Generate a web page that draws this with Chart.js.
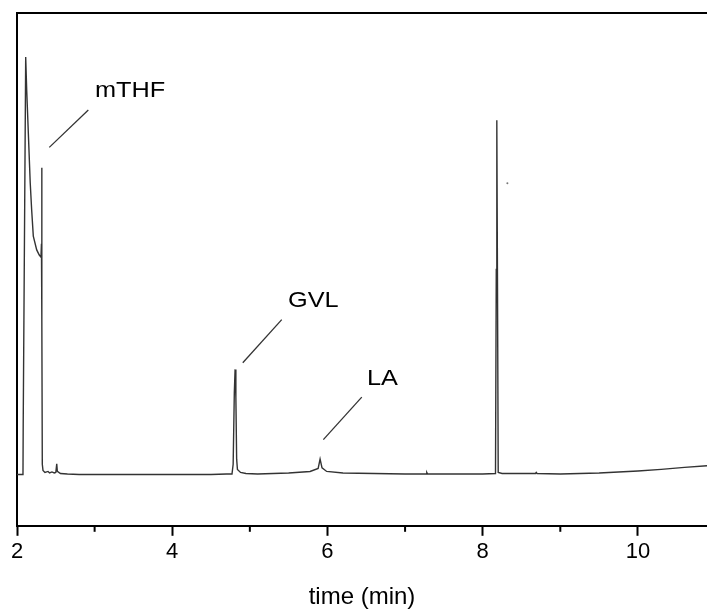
<!DOCTYPE html>
<html>
<head>
<meta charset="utf-8">
<script src="https://cdn.jsdelivr.net/npm/chart.js@4.4.1/dist/chart.umd.min.js"></script>
<style>
html,body{margin:0;padding:0;background:#fff;}
</style>
</head>
<body>
<canvas id="myChart" width="707" height="612"></canvas>
<script>
// retention time (min) and detector signal (arbitrary units)
const times = [2.0, 2.077, 2.08, 2.112, 2.125, 2.146, 2.17, 2.189, 2.21, 2.254, 2.287, 2.309, 2.315, 2.318, 2.322, 2.326, 2.335, 2.36, 2.40, 2.42, 2.45, 2.48, 2.50, 2.512, 2.52, 2.56, 2.65, 2.8, 3.5, 4.5, 4.7, 4.77, 4.785, 4.80, 4.81, 4.82, 4.83, 4.84, 4.88, 4.95, 5.1, 5.5, 5.776, 5.88, 5.905, 5.93, 5.99, 6.2, 7.0, 7.27, 7.28, 7.29, 8.0, 8.165, 8.175, 8.182, 8.19, 8.2, 8.25, 8.68, 8.69, 8.70, 9.0, 9.5, 10.0, 10.3, 10.6, 10.89];
const signal = [10, 10, 20, 91.4, 85, 76.6, 67, 61.6, 56.5, 53.8, 52.8, 52.4, 55, 69.8, 40, 12, 10.8, 10.4, 10.6, 10.3, 10.5, 10.3, 10.4, 12.1, 10.6, 10.2, 10.1, 10.0, 10.0, 10.0, 10.1, 10.1, 12, 26, 30.5, 25, 13, 11, 10.4, 10.2, 10.1, 10.3, 10.6, 11.2, 13, 11.3, 10.6, 10.3, 10.1, 10.1, 10.4, 10.1, 10.1, 10.2, 50, 79.1, 50, 10.4, 10.2, 10.2, 10.4, 10.2, 10.1, 10.3, 10.7, 11.0, 11.4, 11.7];

// stray speck in the plot
const speckTime = [8.318];
const speckSignal = [66.8];

const majorTicks = [2, 4, 6, 8, 10];
const minorTicks = [3, 5, 7, 9];

// peak labels with leader lines (data coordinates)
const peakNames = ['mTHF', 'GVL', 'LA'];
const labelX = [3.005, 5.492, 6.51];
const labelY = [83.6, 42.7, 27.5];
const leaderFrom = [[2.416, 73.8], [4.909, 31.8], [5.947, 16.8]];
const leaderTo = [[2.919, 81.1], [5.411, 40.2], [6.442, 25.1]];

const points = times.map((t, i) => ({x: t, y: signal[i]}));
const speck = speckTime.map((t, i) => ({x: t, y: speckSignal[i]}));

const fontFam = 'Arial, "Liberation Sans", sans-serif';

const framePlugin = {
    id: 'frame',
    afterDraw(chart) {
        const ctx = chart.ctx;
        const area = chart.chartArea;
        const xs = chart.scales.x, ys = chart.scales.y;
        ctx.save();
        ctx.strokeStyle = '#000';
        ctx.lineWidth = 2;
        ctx.beginPath();
        ctx.moveTo(area.left - 1, area.top);
        ctx.lineTo(area.right, area.top);
        ctx.stroke();
        // minor ticks
        minorTicks.forEach(v => {
            const px = xs.getPixelForValue(v);
            ctx.beginPath();
            ctx.moveTo(px, area.bottom);
            ctx.lineTo(px, area.bottom + 6);
            ctx.stroke();
        });
        // leader lines
        ctx.strokeStyle = '#333';
        ctx.lineWidth = 1.3;
        for (let i = 0; i < peakNames.length; i++) {
            ctx.beginPath();
            ctx.moveTo(xs.getPixelForValue(leaderFrom[i][0]), ys.getPixelForValue(leaderFrom[i][1]));
            ctx.lineTo(xs.getPixelForValue(leaderTo[i][0]), ys.getPixelForValue(leaderTo[i][1]));
            ctx.stroke();
        }
        ctx.fillStyle = '#000';
        ctx.font = '22px ' + fontFam;
        ctx.textAlign = 'left';
        ctx.textBaseline = 'alphabetic';
        for (let i = 0; i < peakNames.length; i++) {
            ctx.save();
            ctx.translate(xs.getPixelForValue(labelX[i]), ys.getPixelForValue(labelY[i]));
            ctx.scale(1.15, 1);
            ctx.fillText(peakNames[i], 0, 0);
            ctx.restore();
        }
        ctx.restore();
    }
};

const ctx = document.getElementById('myChart').getContext('2d');
const myChart = new Chart(ctx, {
    type: 'line',
    data: {
        datasets: [{
            data: points,
            borderColor: '#333',
            borderWidth: 1.4,
            pointRadius: 0,
            tension: 0,
            fill: false
        }, {
            data: speck,
            showLine: false,
            borderWidth: 0,
            pointRadius: 1,
            pointBorderWidth: 0,
            pointBackgroundColor: '#777'
        }]
    },
    options: {
        responsive: false,
        animation: false,
        events: [],
        layout: {autoPadding: false, padding: {left: 17, top: 13, right: 0, bottom: 0}},
        plugins: {legend: {display: false}, tooltip: {enabled: false}},
        scales: {
            x: {
                type: 'linear',
                min: 2,
                max: 10.89,
                afterBuildTicks: scale => { scale.ticks = majorTicks.map(v => ({value: v})); },
                afterFit: scale => { scale.paddingLeft = 0; scale.paddingRight = 0; },
                ticks: {
                    color: '#000',
                    font: {family: fontFam, size: 22},
                    padding: 3,
                    maxRotation: 0
                },
                grid: {drawOnChartArea: false, tickLength: 10, tickWidth: 2, tickColor: '#000'},
                border: {color: '#000', width: 2},
                title: {
                    display: true,
                    text: 'time (min)',
                    color: '#000',
                    font: {family: fontFam, size: 24},
                    padding: {top: 15, bottom: 0}
                }
            },
            y: {
                min: 0,
                max: 100,
                ticks: {display: false},
                grid: {drawOnChartArea: false, drawTicks: false},
                border: {color: '#000', width: 2}
            }
        }
    },
    plugins: [framePlugin]
});
</script>
</body>
</html>
